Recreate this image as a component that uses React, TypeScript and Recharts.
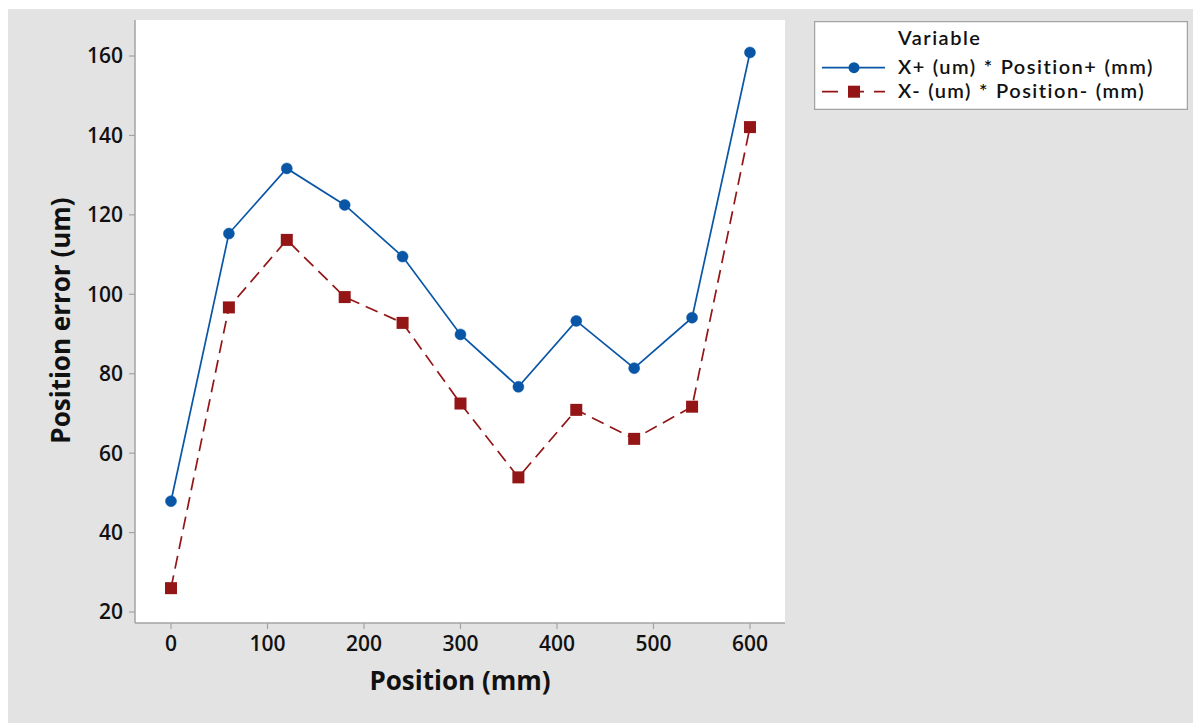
import React from 'react';
import { LineChart, Line, XAxis, YAxis, CartesianGrid } from 'recharts';

const positions = [0, 60, 120, 180, 240, 300, 360, 420, 480, 540, 600];
const xPlus = [47.9, 115.3, 131.7, 122.5, 109.5, 89.9, 76.7, 93.3, 81.4, 94.1, 160.9];
const xMinus = [26.0, 96.7, 113.7, 99.3, 92.8, 72.5, 53.9, 70.9, 63.6, 71.7, 142.1];
const xTicks = [0, 100, 200, 300, 400, 500, 600];
const yTicks = [20, 40, 60, 80, 100, 120, 140, 160];
const seriesNames = ['X+ (um) * Position+ (mm)', 'X- (um) * Position- (mm)'];
const legendTitle = 'Variable';
const xTitle = 'Position (mm)';
const yTitle = 'Position error (um)';

const data = positions.map((p, i) => ({ pos: p, plus: xPlus[i], minus: xMinus[i] }));

const BLUE = '#0a56a6';
const RED = '#931516';
const FRAME = '#a3a3a3';
const FONT = '"Open Sans", "Noto Sans", sans-serif';
const TEXT = '#111';

const SquareDot = (props: any) => {
  const { cx, cy } = props;
  if (cx == null || cy == null) return null;
  return <rect x={cx - 6} y={cy - 6} width={12} height={12} fill={RED} />;
};

const XTitle = (props: any) => {
  const vb = props.viewBox || { x: 127, y: 614, width: 650, height: 101 };
  return (
    <text x={vb.x + vb.width / 2} y={vb.y + 67} textAnchor="middle" fontFamily={FONT} fontWeight={700} fontSize={26} fill={TEXT}>
      {xTitle}
    </text>
  );
};

const YTitle = (props: any) => {
  const vb = props.viewBox || { x: 0, y: 11, width: 127, height: 603 };
  const cx = vb.x + 51.5;
  const cy = vb.y + vb.height / 2 - 1;
  return (
    <text x={cx} y={cy} textAnchor="middle" dominantBaseline="central" transform={`rotate(-90, ${cx}, ${cy})`} fontFamily={FONT} fontWeight={700} fontSize={26} fill={TEXT}>
      {yTitle}
    </text>
  );
};

const tickStyle = { fontFamily: FONT, fontWeight: 600, fontSize: 21, fill: TEXT };
const legendText = { fontFamily: 'Lato, "Open Sans", sans-serif', fontWeight: 600, fontSize: 20, letterSpacing: 1.5, wordSpacing: 0.5, fill: TEXT } as const;

export default function App() {
  return (
    <div style={{ position: 'relative', top: 1, left: -1, width: 1194, height: 715, background: '#e3e3e3', borderLeft: '1px solid #cfcfcf', boxSizing: 'border-box' }}>
      <LineChart width={1193} height={715} data={data} margin={{ top: 11, right: 416, bottom: 0, left: 0 }}>
        <CartesianGrid horizontal={false} vertical={false} fill="#ffffff" />
        <XAxis
          dataKey="pos"
          type="number"
          domain={[-37.3, 636.3]}
          ticks={xTicks}
          allowDataOverflow
          height={101}
          tickSize={6}
          tickMargin={7}
          tick={tickStyle}
          stroke={FRAME}
          axisLine={{ stroke: FRAME, strokeWidth: 1.5 }}
          tickLine={{ stroke: FRAME, strokeWidth: 1.2 }}
          label={<XTitle />}
        />
        <XAxis xAxisId="top" orientation="top" type="number" domain={[0, 1]} height={0} tick={false} tickLine={false} axisLine={{ stroke: FRAME, strokeWidth: 1.5 }} />
        <YAxis
          type="number"
          domain={[17.23, 169.07]}
          ticks={yTicks}
          allowDataOverflow
          width={127}
          tickSize={6}
          tickMargin={6}
          tick={tickStyle}
          stroke={FRAME}
          axisLine={{ stroke: FRAME, strokeWidth: 1.5 }}
          tickLine={{ stroke: FRAME, strokeWidth: 1.2 }}
          label={<YTitle />}
        />
        <YAxis yAxisId="right" orientation="right" type="number" domain={[0, 1]} width={0} tick={false} tickLine={false} axisLine={{ stroke: FRAME, strokeWidth: 1.5 }} />
        <Line
          dataKey="plus"
          name={seriesNames[0]}
          stroke={BLUE}
          strokeWidth={1.7}
          dot={{ r: 5.5, fill: BLUE, stroke: BLUE, strokeWidth: 0.5 }}
          activeDot={false}
          isAnimationActive={false}
        />
        <Line
          dataKey="minus"
          name={seriesNames[1]}
          stroke={RED}
          strokeWidth={1.7}
          strokeDasharray="13 7"
          dot={<SquareDot />}
          activeDot={false}
          isAnimationActive={false}
        />
      </LineChart>
      <svg style={{ position: 'absolute', left: 806, top: 12 }} width={374} height={89}>
        <rect x={0.5} y={0.5} width={373} height={88} fill="#ffffff" stroke={FRAME} strokeWidth={1.5} />
        <text x={84} y={24} {...legendText}>{legendTitle}</text>
        <line x1={8} x2={71} y1={46.7} y2={46.7} stroke={BLUE} strokeWidth={1.7} />
        <circle cx={40} cy={46.7} r={5.5} fill={BLUE} />
        <text x={84} y={53} {...legendText}>{seriesNames[0]}</text>
        <line x1={8} x2={71} y1={70.7} y2={70.7} stroke={RED} strokeWidth={1.7} strokeDasharray="16 10" />
        <rect x={34} y={64.7} width={12} height={12} fill={RED} />
        <text x={84} y={77} {...legendText}>{seriesNames[1]}</text>
      </svg>
    </div>
  );
}
